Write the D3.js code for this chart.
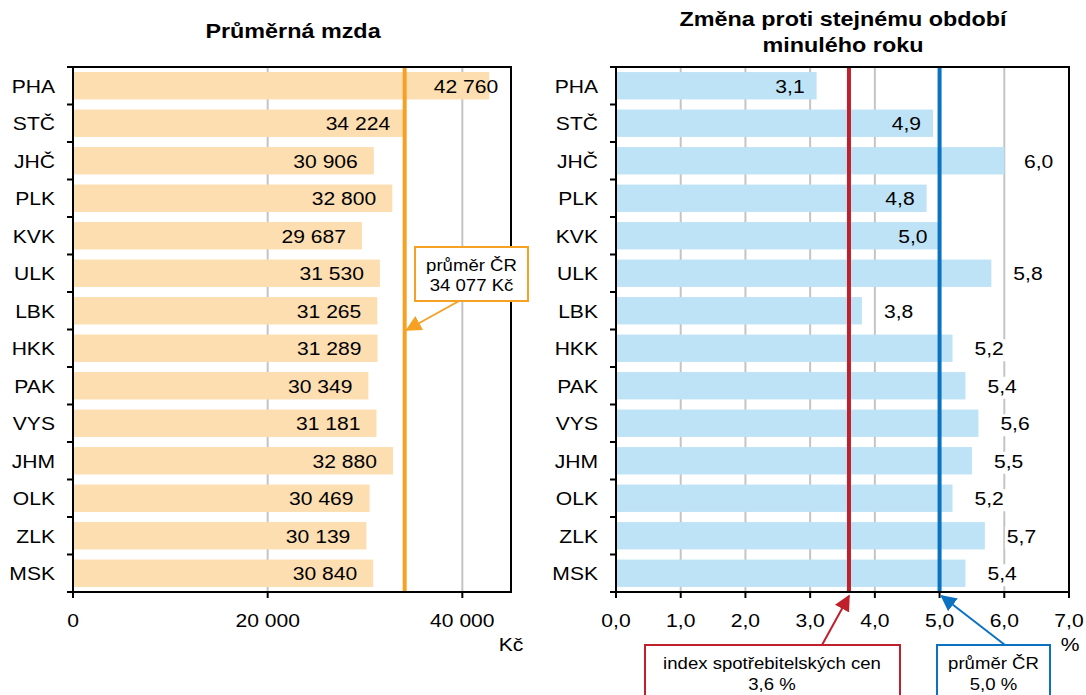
<!DOCTYPE html>
<html>
<head>
<meta charset="utf-8">
<script src="https://cdn.jsdelivr.net/npm/d3@7"></script>
<style>
  body { margin: 0; background: #fff; }
  svg text { font-family: "Liberation Sans", Arial, sans-serif; fill: #000; }
</style>
</head>
<body>
<div id="chart"></div>
<script>
// data
var regions = ["PHA", "STČ", "JHČ", "PLK", "KVK", "ULK", "LBK", "HKK", "PAK", "VYS", "JHM", "OLK", "ZLK", "MSK"];
var wages = [42760, 34224, 30906, 32800, 29687, 31530, 31265, 31289, 30349, 31181, 32880, 30469, 30139, 30840];
var growth = [3.1, 4.9, 6.0, 4.8, 5.0, 5.8, 3.8, 5.2, 5.4, 5.6, 5.5, 5.2, 5.7, 5.4];
var wageAvg = 34077;
var growthAvg = 5.0;
var cpi = 3.6;
var wageTicks = [0, 20000, 40000];
var growthTicks = [0, 1, 2, 3, 4, 5, 6, 7];

var width = 1086, height = 695;
var SX = 1.14; // text in the original is a bit wider than plain Arial
var FS = 18.5; // label size

var cz = d3.formatLocale({decimal: ",", thousands: " ", grouping: [3], currency: ["", " Kč"]});
var fmtWage = cz.format(",d");
var fmtPct = cz.format(".1f");

var svg = d3.select("#chart").append("svg")
    .attr("width", width)
    .attr("height", height);

// arrow heads
var defs = svg.append("defs");
[["arOrange", "#f6a124"], ["arRed", "#c0202b"], ["arBlue", "#0b72c2"]].forEach(function(m) {
  defs.append("marker")
      .attr("id", m[0])
      .attr("viewBox", "0 0 10 10")
      .attr("refX", 9).attr("refY", 5)
      .attr("markerWidth", 16).attr("markerHeight", 16)
      .attr("markerUnits", "userSpaceOnUse")
      .attr("orient", "auto")
    .append("path")
      .attr("d", "M0,0 L10,5 L0,10 z")
      .attr("fill", m[1]);
});

function txt(g, x, y, s, size, anchor, bold) {
  return g.append("text")
      .attr("transform", "translate(" + x + "," + y + ") scale(" + SX + ",1)")
      .attr("text-anchor", anchor || "middle")
      .style("font-size", size + "px")
      .style("font-weight", bold ? "bold" : "normal")
      .text(s);
}

var y = d3.scaleBand()
    .domain(regions)
    .range([67, 592])
    .paddingInner(0.27)
    .paddingOuter(0.135);

function panel(opts) {
  var x = opts.x;
  var g = svg.append("g");
  var x0 = x.range()[0], x1 = x.range()[1];
  var top = y.range()[0], bot = y.range()[1];

  // gridlines
  g.selectAll(".grid")
      .data(opts.ticks.filter(function(t) { return t > 0 && x(t) < x1 - 1; }))
    .enter().append("line")
      .attr("x1", function(d) { return x(d); })
      .attr("x2", function(d) { return x(d); })
      .attr("y1", top).attr("y2", bot)
      .attr("stroke", "#c4c4c4")
      .attr("stroke-width", 2);

  // bars
  g.selectAll(".bar")
      .data(opts.values)
    .enter().append("rect")
      .attr("x", x(0))
      .attr("y", function(d, i) { return y(regions[i]); })
      .attr("width", function(d) { return x(d) - x(0); })
      .attr("height", y.bandwidth())
      .attr("fill", opts.barColor);

  // reference lines
  opts.lines.forEach(function(l) {
    g.append("line")
        .attr("x1", x(l.v)).attr("x2", x(l.v))
        .attr("y1", top).attr("y2", bot)
        .attr("stroke", l.color)
        .attr("stroke-width", 4);
  });

  // frame
  g.append("rect")
      .attr("x", x0).attr("y", top)
      .attr("width", x1 - x0).attr("height", bot - top)
      .attr("fill", "none")
      .attr("stroke", "#000")
      .attr("stroke-width", 2);

  // category ticks on the left side
  d3.range(regions.length + 1).forEach(function(i) {
    var yy = top + i * y.step();
    g.append("line")
        .attr("x1", x0 - 6).attr("x2", x0)
        .attr("y1", yy).attr("y2", yy)
        .attr("stroke", "#000").attr("stroke-width", 2);
  });

  // bottom ticks
  opts.ticks.forEach(function(t) {
    g.append("line")
        .attr("x1", x(t)).attr("x2", x(t))
        .attr("y1", bot).attr("y2", bot + 6)
        .attr("stroke", "#000").attr("stroke-width", 2);
    txt(g, x(t), 627, opts.fmtTick(t), FS);
  });
  txt(g, opts.unitX, 651, opts.unit, FS);

  // category labels
  regions.forEach(function(r) {
    txt(g, x0 - 18, y(r) + y.bandwidth() / 2 + 7, r, FS, "end");
  });

  return g;
}

// ---- left panel: average wage
var xL = d3.scaleLinear().domain([0, 45000]).range([73, 511]);
var gL = panel({
  x: xL, ticks: wageTicks, values: wages, barColor: "#fcdeb1",
  lines: [{v: wageAvg, color: "#f6a124"}],
  fmtTick: fmtWage, unit: "Kč", unitX: 511
});
wages.forEach(function(v, i) {
  var yy = y(regions[i]) + y.bandwidth() / 2 + 7;
  if (xL(v) - xL(wageAvg) > 60) {
    txt(gL, xL(v) + 9, yy, fmtWage(v), FS, "end");
  } else {
    txt(gL, xL(v) - 16, yy, fmtWage(v), FS, "end");
  }
});
txt(gL, 293, 38, "Průměrná mzda", 20.5, "middle", true);

// callout for the average
gL.append("rect")
    .attr("x", 415).attr("y", 247).attr("width", 113).attr("height", 54)
    .attr("fill", "#fff").attr("stroke", "#f6a124").attr("stroke-width", 2);
txt(gL, 471.5, 271, "průměr ČR", 16.3);
txt(gL, 471.5, 291, "34 077 Kč", 16.3);
gL.append("line")
    .attr("x1", 459).attr("y1", 301)
    .attr("x2", xL(wageAvg) + 2).attr("y2", 330)
    .attr("stroke", "#f6a124").attr("stroke-width", 2)
    .attr("marker-end", "url(#arOrange)");

// ---- right panel: year-on-year change
var xR = d3.scaleLinear().domain([0, 7]).range([616, 1069]);
var gR = panel({
  x: xR, ticks: growthTicks, values: growth, barColor: "#bfe3f6",
  lines: [{v: cpi, color: "#c0202b"}, {v: growthAvg, color: "#0b72c2"}],
  fmtTick: fmtPct, unit: "%", unitX: 1070
});
growth.forEach(function(v, i) {
  var yy = y(regions[i]) + y.bandwidth() / 2 + 7;
  var inside = v <= growthAvg && (v < cpi || v - cpi >= 1);
  if (inside) {
    txt(gR, xR(v) - 12, yy, fmtPct(v), FS, "end");
  } else {
    var lx = Math.min(xR(v) + 22, xR(7) - 45);
    gR.append("rect")
        .attr("x", lx - 2).attr("y", yy - 16)
        .attr("width", 38).attr("height", 22)
        .attr("fill", "#fff");
    txt(gR, lx, yy, fmtPct(v), FS, "start");
  }
});
txt(gR, 843, 26, "Změna proti stejnému období", 20.5, "middle", true);
txt(gR, 843, 52, "minulého roku", 20.5, "middle", true);

// callouts below the axis
gR.append("rect")
    .attr("x", 645).attr("y", 645).attr("width", 255).attr("height", 60)
    .attr("fill", "#fff").attr("stroke", "#c0202b").attr("stroke-width", 2);
txt(gR, 772, 669, "index spotřebitelských cen", 16.3);
txt(gR, 772, 690, "3,6 %", 16.3);
gR.append("line")
    .attr("x1", 822).attr("y1", 645)
    .attr("x2", xR(cpi)).attr("y2", 596)
    .attr("stroke", "#c0202b").attr("stroke-width", 2)
    .attr("marker-end", "url(#arRed)");

gR.append("rect")
    .attr("x", 937).attr("y", 645).attr("width", 113).attr("height", 60)
    .attr("fill", "#fff").attr("stroke", "#0b72c2").attr("stroke-width", 2);
txt(gR, 993.5, 669, "průměr ČR", 16.3);
txt(gR, 993.5, 690, "5,0 %", 16.3);
gR.append("line")
    .attr("x1", 1005).attr("y1", 645)
    .attr("x2", xR(growthAvg) + 2).attr("y2", 596)
    .attr("stroke", "#0b72c2").attr("stroke-width", 2)
    .attr("marker-end", "url(#arBlue)");
</script>
</body>
</html>
